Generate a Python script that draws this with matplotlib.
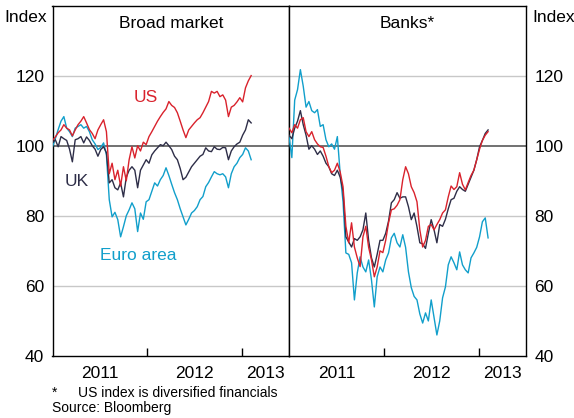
import numpy as np
import matplotlib
matplotlib.use("Agg")
import matplotlib.pyplot as plt

plt.rcParams['font.family'] = ['Liberation Sans', 'DejaVu Sans']

# time axis: fractional years, common sampling for both panels
dates = 2011.0 + np.arange(71) * 0.03

# Broad market
broad_us = [101.5, 102.5, 103.7, 104.5, 106, 105, 104.5, 102.8, 104.5, 106,
            107, 108.3, 106.5, 104.6, 103.5, 102, 104.5, 106, 107.4, 104,
            92, 95, 90.3, 93, 88.5, 94, 90, 96, 99.7, 96.5,
            100, 98.5, 101, 100.3, 102.6, 104, 105.5, 107, 108.3, 109.5,
            110.5, 112.6, 111.5, 110.9, 109.4, 107, 104.5, 102.3, 104.5, 105.5,
            106.5, 107.4, 108, 109.4, 111, 112.6, 115.5, 115, 115.5, 114,
            114.5, 113, 108.3, 111, 111.5, 112.5, 113.7, 112.5, 116.5, 118.5,
            120]
broad_uk = [100.8, 101.7, 99.7, 102.6, 102, 101.5, 99, 95.4, 101.7, 102,
            102.6, 100.8, 102.5, 101.5, 100, 99, 97, 98.9, 99.7, 98,
            89.4, 90.3, 88, 87.4, 89.4, 85.4, 91, 93, 94, 93,
            88, 93, 94.5, 96, 95, 97.4, 98.5, 99.4, 100.3, 100,
            101, 100, 98.9, 97, 96, 93.5, 90.3, 91, 92.5, 94,
            95, 96, 97, 97.5, 99.4, 98.5, 98.3, 99.7, 99, 98.9,
            99.5, 99.4, 96, 98.5, 99.7, 100.5, 101, 103, 104.5, 107.4,
            106.5]
broad_euro = [99.7, 102, 104.6, 107, 108.3, 105, 104, 102.6, 105, 105.5,
              106, 105, 105.5, 104, 101.7, 100.5, 98.9, 99.5, 100.8, 97.4,
              84.6, 79.7, 81, 78.9, 74, 76.9, 80, 81.7, 83.7, 82,
              75.5, 80.8, 79, 84, 84.6, 87, 89.4, 88.5, 90.3, 91.5,
              93.7, 91.5, 89, 86.6, 84.6, 82, 79.7, 77.4, 79, 80.8,
              81.5, 82.6, 84.6, 85.5, 88.3, 89.5, 91.1, 92.6, 92, 91.7,
              92, 91.1, 88, 92, 94, 95, 96.6, 97.5, 99.4, 98.5,
              96]

# Banks
banks_us = [105, 103.7, 106, 105, 107.4, 108, 104, 102.6, 104, 101.7,
            100.5, 99.7, 99.5, 97, 94, 92.3, 93, 95, 92.5, 88.3,
            77, 72.3, 78, 71.1, 68, 65.5, 74, 77, 71, 67.4,
            62.6, 65.4, 70, 69.5, 73, 78, 81.7, 82, 83, 84.6,
            90.3, 94, 92, 88.3, 86.6, 84, 76, 71.1, 73, 77,
            77.5, 76, 77.5, 78.9, 80.8, 81.7, 85.4, 88.5, 87.5, 88.3,
            92.3, 89, 87.4, 89.5, 91.5, 93, 96, 99, 101.5, 103,
            104]
banks_uk = [103, 102, 105, 107, 110, 106, 103, 99, 100, 99,
            97.5, 98.5, 97, 95, 94, 92, 91.5, 93, 91, 87,
            74, 72.5, 71.1, 73.5, 73, 74, 76, 80.8, 73, 68,
            65.4, 69, 73, 73, 75, 78.5, 83.7, 84.6, 86.6, 85,
            85.4, 85.4, 82.6, 78.9, 80.8, 76.9, 72.3, 72, 70.7, 75,
            78.9, 76, 72.3, 77.5, 77, 79, 82, 84.6, 85, 87,
            88.3, 87.5, 87, 89, 91, 93, 96, 99.7, 101.5, 103.5,
            104.5]
banks_euro = [102.6, 96.6, 113, 116, 121.7, 117, 111, 112.6, 110, 109.4,
              110.3, 105.5, 106, 101.7, 99.7, 100.5, 99, 102.6, 92, 84,
              69.4, 69, 66.6, 56, 63.7, 68.3, 65.4, 64, 67.4, 61.7,
              54, 62.6, 65.4, 64, 67.4, 69.4, 73.7, 75, 72.3, 71.1,
              74.6, 71, 64, 59.5, 57, 56, 52, 49.4, 52.3, 50,
              56, 51, 46, 50, 56.6, 59.7, 66, 68.3, 66.6, 64.6,
              69.7, 66, 64.6, 63.7, 68, 69.4, 71, 74, 78.3, 79.4,
              73.7]

panel_titles = ["Broad market", "Banks*"]
yticks = [40, 60, 80, 100, 120]
year_labels = ["2011", "2012", "2013"]

RED = "#d9222c"
NAVY = "#2e2e48"
CYAN = "#119fcb"
GRID = "#c8c8c8"

W, H = 574, 418
fig = plt.figure(figsize=(W / 100, H / 100), dpi=100)

def fx(px):
    return px / W

def fy(py):
    return 1 - py / H

top_px, bot_px = 5.5, 356
ax1 = fig.add_axes([fx(52.5), fy(bot_px), fx(289 - 52.5), fy(top_px) - fy(bot_px)])
ax2 = fig.add_axes([fx(289), fy(bot_px), fx(526 - 289), fy(top_px) - fy(bot_px)])

series_sets = [
    (ax1, broad_euro, broad_uk, broad_us),
    (ax2, banks_euro, banks_uk, banks_us),
]

for ax, eu, uk, us in series_sets:
    ax.set_xlim(2011.0, 2013.5)
    ax.set_ylim(40, 140)
    for v in [60, 80, 120]:
        ax.axhline(v, color=GRID, lw=1.0, zorder=1)
    ax.axhline(100, color="#4a4a4a", lw=1.1, zorder=2)
    ax.plot(dates, eu, color=CYAN, lw=1.0, zorder=3)
    ax.plot(dates, uk, color=NAVY, lw=1.0, zorder=4)
    ax.plot(dates, us, color=RED, lw=1.0, zorder=5)
    for s in ax.spines.values():
        s.set_color("black")
        s.set_linewidth(1.0)
    ax.set_xticks([2012, 2013])
    ax.set_xticklabels([])
    ax.tick_params(axis='x', which='major', direction='in', length=6, width=1.0, color='black')
    ax.set_xticks([2011.5, 2012.5, 2013.25], minor=True)
    ax.set_xticklabels(year_labels, minor=True, fontsize=12.5)
    ax.tick_params(axis='x', which='minor', length=0, pad=7)
    ax.set_yticks(yticks)
    ax.set_yticklabels([str(v) for v in yticks], fontsize=12.5)
    ax.tick_params(axis='y', length=0, pad=6)

ax2.yaxis.tick_right()
ax2.tick_params(axis='y', length=0, pad=6)

title_y = 1 - (24 - top_px) / (bot_px - top_px)
ax1.text(0.5, title_y, panel_titles[0], transform=ax1.transAxes, ha='center', va='center', fontsize=12.5)
ax2.text(0.5, title_y, panel_titles[1], transform=ax2.transAxes, ha='center', va='center', fontsize=12.5)

# series labels
fig.text(fx(146), fy(98), "US", color=RED, fontsize=12.5, ha='center', va='center')
fig.text(fx(77), fy(182), "UK", color=NAVY, fontsize=12.5, ha='center', va='center')
fig.text(fx(138), fy(256), "Euro area", color=CYAN, fontsize=12.5, ha='center', va='center')

fig.text(fx(47), fy(17), "Index", fontsize=12.5, ha='right', va='center')
fig.text(fx(532), fy(17), "Index", fontsize=12.5, ha='left', va='center')

fig.text(fx(52), fy(393), "*", fontsize=10, ha='left', va='center')
fig.text(fx(78), fy(393), "US index is diversified financials", fontsize=10, ha='left', va='center')
fig.text(fx(52), fy(408), "Source: Bloomberg", fontsize=10, ha='left', va='center')

fig.savefig("out.png", dpi=100)
